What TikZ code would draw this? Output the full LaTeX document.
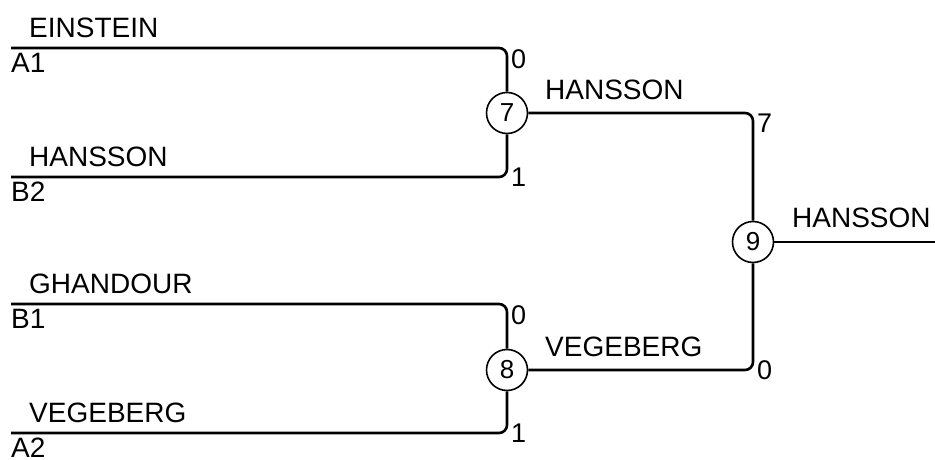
\documentclass[tikz,border=0pt]{standalone}
\usepackage{fontspec}
\setmainfont{Liberation Sans}
\usepackage{tikz}
\usetikzlibrary{positioning}
\tikzset{bracketmatch/.style={circle,draw=black,line width=1.6pt,fill=white,
inner sep=0pt,minimum size=41pt,font=\fontsize{26}{30}\selectfont}}
\tikzset{bracketline/.style={line width=2.6pt,rounded corners=8pt}}
\tikzset{bracketname/.style={anchor=base west,inner sep=0pt,font=\fontsize{28}{32}\selectfont}}
\tikzset{bracketseed/.style={anchor=north west,inner sep=0pt,font=\fontsize{28}{32}\selectfont}}
\tikzset{bracketscore/.style={inner sep=0pt,font=\fontsize{27}{32}\selectfont}}

\begin{document}
\begin{tikzpicture}[x=1pt,y=1pt]
    \useasboundingbox (0,0) rectangle (935,460);

        \node[bracketmatch] (match7) at (507,347) {7};
        \node[bracketmatch] (match8) at (507,90) {8};
        \node[bracketmatch] (match9) at (753,218) {9};

        \coordinate (lineA1) at (11,412);
        \coordinate (lineB2) at (11,283);
        \coordinate (lineB1) at (11,156);
        \coordinate (lineA2) at (11,27);
        \coordinate (lineout) at (935,218);

        \coordinate (cornerA1) at (lineA1 -| match7);
        \coordinate (cornerB2) at (lineB2 -| match7);
        \coordinate (cornerB1) at (lineB1 -| match8);
        \coordinate (cornerA2) at (lineA2 -| match8);
        \coordinate (corner7) at (match7 -| match9);
        \coordinate (corner8) at (match8 -| match9);

        \draw[bracketline] (lineA1) -| (match7);
        \draw[bracketline] (lineB2) -| (match7);
        \draw[bracketline] (lineB1) -| (match8);
        \draw[bracketline] (lineA2) -| (match8);
        \draw[bracketline] (match7) -| (match9);
        \draw[bracketline] (match8) -| (match9);
        \draw[bracketline] (match9) -- (lineout);

        \node[bracketname] (nameA1) at ([xshift=18pt,yshift=10pt]lineA1) {EINSTEIN};
        \node[bracketname] (nameB2) at ([xshift=18pt,yshift=10pt]lineB2) {HANSSON};
        \node[bracketname] (nameB1) at ([xshift=18pt,yshift=10pt]lineB1) {GHANDOUR};
        \node[bracketname] (nameA2) at ([xshift=18pt,yshift=10pt]lineA2) {VEGEBERG};

        \node[bracketseed] (seedA1) [below right=5pt and 0pt of lineA1] {A1};
        \node[bracketseed] (seedB2) [below right=5pt and 0pt of lineB2] {B2};
        \node[bracketseed] (seedB1) [below right=5pt and 0pt of lineB1] {B1};
        \node[bracketseed] (seedA2) [below right=5pt and 0pt of lineA2] {A2};

        \node[bracketname] (win7) at ([xshift=38pt,yshift=13pt]match7.center) {HANSSON};
        \node[bracketname] (win8) at ([xshift=38pt,yshift=13pt]match8.center) {VEGEBERG};
        \node[bracketname] (win9) at ([xshift=39pt,yshift=14pt]match9.center) {HANSSON};

        \node[bracketscore,anchor=north west] (scoreA1) at ([xshift=4pt,yshift=-1pt]cornerA1) {0};
        \node[bracketscore,anchor=west] (scoreB2) at ([xshift=4pt]cornerB2) {1};
        \node[bracketscore,anchor=north west] (scoreB1) at ([xshift=4pt,yshift=-1pt]cornerB1) {0};
        \node[bracketscore,anchor=west] (scoreA2) at ([xshift=4pt]cornerA2) {1};
        \node[bracketscore,anchor=north west] (score7) at ([xshift=4pt,yshift=-1pt]corner7) {7};
        \node[bracketscore,anchor=west] (score8) at ([xshift=4pt]corner8) {0};

\end{tikzpicture}
\end{document}
